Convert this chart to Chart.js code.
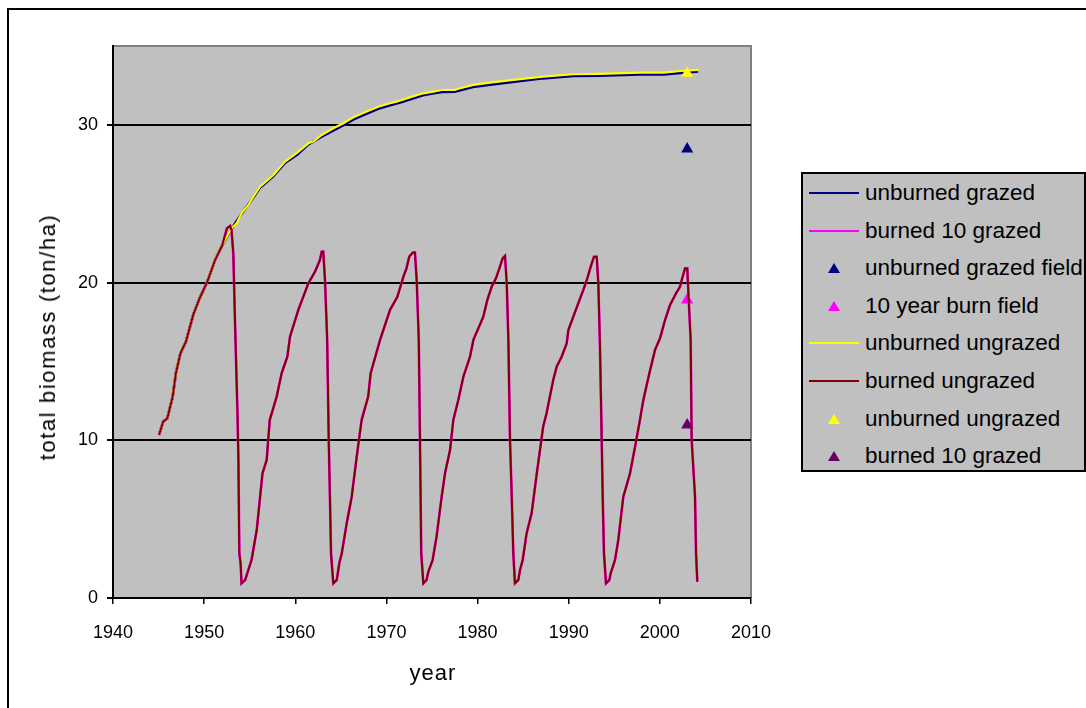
<!DOCTYPE html>
<html>
<head>
<meta charset="utf-8">
<script src="https://cdn.jsdelivr.net/npm/chart.js@4.4.1/dist/chart.umd.min.js"></script>
<style>
  html, body { margin: 0; padding: 0; background: #fff; overflow: hidden; width: 1086px; height: 708px; }
  #wrap { position: relative; width: 1086px; height: 708px; overflow: hidden; }
  #frame { position: absolute; left: 7px; top: 8px; width: 1200px; height: 800px; border: 2px solid #000; box-sizing: border-box; }
  canvas { position: absolute; left: 0; top: 0; }
  .t { position: absolute; font-family: "Liberation Sans", Arial, sans-serif; color: #000; white-space: nowrap; }
  #ytitle { left: 48px; top: 337px; transform: translate(-50%, -50%) rotate(-90deg); font-size: 22px; letter-spacing: 1.6px; }
  #xtitle { left: 433px; top: 673px; transform: translate(-50%, -50%); font-size: 22px; letter-spacing: 1px; }
  #legend { position: absolute; left: 801px; top: 172px; width: 285px; height: 300px; background: #c0c0c0; border: 2px solid #000; box-sizing: border-box; }
  .row { position: absolute; left: 0; width: 282px; height: 30px; }
  .sw-line { position: absolute; left: 6px; top: 14px; width: 50px; height: 2px; }
  .sw-tri { position: absolute; left: 25px; top: 10px; width: 0; height: 0; border-left: 6px solid transparent; border-right: 6px solid transparent; border-bottom: 10px solid; }
  .lbl { position: absolute; left: 62px; top: 0; line-height: 30px; font-size: 22.5px; font-family: "Liberation Sans", Arial, sans-serif; white-space: nowrap; }
</style>
</head>
<body>
<div id="wrap">
  <div id="frame"></div>
  <canvas id="c" width="1086" height="708"></canvas>
  <div class="t" id="ytitle">total biomass (ton/ha)</div>
  <div class="t" id="xtitle">year</div>
  <div id="legend"></div>
</div>
<script>
// Growth common to every simulation before the first fire (1945-1952)
const earlyYears = [1945.05, 1945.5, 1945.96, 1946.55, 1946.9, 1947.4, 1948.0, 1948.8, 1949.5, 1950.35, 1951.2, 1952.0];
const earlyVals  = [10.34, 11.18, 11.39, 12.77, 14.25, 15.52, 16.25, 17.95, 19.0, 20.06, 21.43, 22.38];

// Burned every 10 years (ungrazed), after 1952
const burnYears = [1952.2, 1952.5, 1952.85, 1953.0, 1953.2, 1953.39, 1953.65, 1953.76, 1953.86, 1954.0,
  1954.1, 1954.5, 1954.85, 1955.2, 1955.77, 1956.4, 1956.86, 1957.2, 1957.96, 1958.5,
  1959.13, 1959.42, 1960.33, 1961.43, 1962.16, 1962.7, 1962.9, 1963.07, 1963.26, 1963.5,
  1963.67, 1963.8, 1963.92, 1964.17, 1964.55, 1964.83, 1965.1, 1965.64, 1966.19, 1966.74,
  1967.28, 1968.0, 1968.27, 1969.3, 1970.39, 1971.2, 1971.86, 1972.2, 1972.5, 1972.9,
  1973.13, 1973.32, 1973.55, 1973.68, 1973.82, 1974.05, 1974.4, 1974.6, 1975.07, 1975.5,
  1976.06, 1976.43, 1976.98, 1977.34, 1977.89, 1978.44, 1979.17, 1979.54, 1980.63, 1981.07,
  1981.55, 1982.02, 1982.39, 1982.76, 1983.01, 1983.2, 1983.38, 1983.56, 1983.75, 1983.92,
  1984.1, 1984.47, 1984.66, 1984.95, 1985.38, 1985.93, 1986.5, 1987.2, 1987.57, 1988.3,
  1988.68, 1989.23, 1989.78, 1989.96, 1991.05, 1991.6, 1992.04, 1992.41, 1992.77, 1993.07,
  1993.25, 1993.43, 1993.62, 1993.73, 1993.87, 1994.09, 1994.46, 1994.6, 1995.08, 1995.44,
  1995.99, 1996.73, 1997.28, 1997.75, 1998.19, 1998.85, 1999.47, 2000.02, 2000.57, 2001.12,
  2001.78, 2002.21, 2002.5, 2002.76, 2003.01, 2003.2, 2003.38, 2003.49, 2003.86, 2003.97, 2004.11];
const burnVals = [22.8, 23.44, 23.59, 23.34, 21.86, 17.42, 11.92, 8.75, 2.83, 2.2,
  0.93, 1.14, 1.78, 2.41, 4.31, 7.9, 8.75, 11.29, 12.77, 14.25,
  15.3, 16.57, 18.26, 19.95, 20.69, 21.43, 21.96, 21.96, 20.16, 16.36,
  10.02, 6.42, 2.83, 0.93, 1.14, 2.2, 2.83, 4.73, 6.42, 8.96,
  11.29, 12.77, 14.25, 16.36, 18.26, 19.1, 20.37, 20.9, 21.64, 21.9,
  21.9, 20.16, 16.36, 10.02, 2.83, 0.93, 1.14, 1.67, 2.41, 3.89,
  6.42, 7.91, 9.38, 11.29, 12.56, 14.03, 15.3, 16.36, 17.84, 18.9,
  19.74, 20.27, 20.9, 21.54, 21.69, 19.95, 16.36, 10.02, 6.42, 2.83,
  0.93, 1.14, 1.78, 2.41, 4.1, 5.37, 7.91, 10.87, 11.71, 13.82,
  14.67, 15.3, 16.15, 16.99, 18.69, 19.53, 20.27, 21.0, 21.64, 21.64,
  19.95, 15.94, 10.02, 6.42, 2.83, 0.93, 1.14, 1.56, 2.41, 3.68,
  6.42, 7.91, 9.59, 11.08, 12.56, 14.25, 15.73, 16.47, 17.63, 18.58,
  19.32, 19.74, 20.37, 20.9, 20.9, 18.47, 16.36, 10.02, 6.42, 2.83, 1.03];

// Never burned, ungrazed, after 1952
const ungrazedYears = [1952.1, 1953.0, 1953.57, 1954.12, 1954.85, 1955.4, 1956.13, 1957.6, 1958.87, 1960.15,
  1961.43, 1961.98, 1962.9, 1964.17, 1965.27, 1966.37, 1967.83, 1969.1, 1970.39, 1971.1,
  1971.7, 1972.8, 1974.05, 1975.15, 1976.06, 1977.5, 1978.07, 1979.53, 1981.36, 1983.2,
  1985.39, 1987.2, 1990.5, 1993.43, 1997.82, 2000.38, 2002.57, 2004.22];
const ungrazedVals = [22.49, 23.44, 23.76, 24.4, 24.92, 25.45, 26.08, 26.82, 27.67, 28.2,
  28.83, 28.94, 29.36, 29.78, 30.1, 30.48, 30.84, 31.15, 31.37, 31.47,
  31.58, 31.79, 32.0, 32.11, 32.21, 32.21, 32.32, 32.53, 32.68, 32.8,
  32.95, 33.06, 33.21, 33.23, 33.31, 33.31, 33.43, 33.48];

// Never burned, grazed, after 1952
const grazedYears = [1953.0, 1954.1, 1955.4, 1956.1, 1957.6, 1958.9, 1960.2, 1961.4, 1962.9, 1964.2,
  1965.3, 1966.4, 1967.8, 1969.1, 1970.4, 1971.7, 1972.8, 1974.0, 1975.2, 1976.1,
  1977.5, 1979.5, 1981.4, 1983.2, 1985.4, 1987.2, 1990.5, 1993.4, 1997.8, 2000.4, 2002.6, 2004.2];
const grazedVals = [23.4, 24.35, 25.4, 26.0, 26.75, 27.6, 28.1, 28.75, 29.25, 29.65,
  29.98, 30.35, 30.7, 31.02, 31.25, 31.45, 31.65, 31.88, 32.0, 32.08,
  32.1, 32.4, 32.55, 32.68, 32.83, 32.95, 33.1, 33.12, 33.2, 33.2, 33.3, 33.38];

// Field measurements taken in 2003
const fieldYear = 2003;
const fieldUnburnedGrazed = 28.47;
const fieldTenYearBurn = 18.9;
const fieldUnburnedUngrazed = 33.27;
const fieldBurnedGrazed = 10.97;

const xTicks = [1940, 1950, 1960, 1970, 1980, 1990, 2000, 2010];
const yTicks = [0, 10, 20, 30];

function pts(xs, ys) { return xs.map((x, i) => ({ x: x, y: ys[i] })); }
const early = pts(earlyYears, earlyVals);
const burned = early.concat(pts(burnYears, burnVals));
const unburnedUngrazed = early.concat(pts(ungrazedYears, ungrazedVals));
const unburnedGrazed = early.concat(pts(grazedYears, grazedVals));

const FONT = '"Liberation Sans", Arial, sans-serif';

function lineSet(label, data, color, width, order) {
  return { label, data, type: 'line', borderColor: color, backgroundColor: color, borderWidth: width,
    pointRadius: 0, fill: false, tension: 0, order, kind: 'line' };
}
function triSet(label, value, color, order) {
  return { label, data: [{ x: fieldYear, y: value }], type: 'line', showLine: false,
    pointStyle: 'triangle', pointRadius: 7, pointBackgroundColor: color, pointBorderColor: color,
    pointBorderWidth: 0, borderColor: color, backgroundColor: color, order, kind: 'tri' };
}

const datasets = [
  lineSet('unburned grazed', unburnedGrazed, '#000080', 2.6, 7),
  lineSet('burned 10 grazed', burned, '#ff00ff', 2.6, 6),
  triSet('unburned grazed field', fieldUnburnedGrazed, '#000080', 5),
  triSet('10 year burn field', fieldTenYearBurn, '#ff00ff', 4),
  lineSet('unburned ungrazed', unburnedUngrazed, '#ffff00', 2.2, 3),
  lineSet('burned ungrazed', burned, '#800000', 2, 2),
  triSet('unburned ungrazed', fieldUnburnedUngrazed, '#ffff00', 1),
  triSet('burned 10 grazed', fieldBurnedGrazed, '#660066', 0)
];

const plotFrame = {
  id: 'plotFrame',
  beforeDraw(chart) {
    const a = chart.chartArea, ctx = chart.ctx;
    ctx.save();
    ctx.fillStyle = '#c0c0c0';
    ctx.fillRect(a.left, a.top, a.right - a.left, a.bottom - a.top);
    ctx.strokeStyle = '#808080';
    ctx.lineWidth = 2;
    ctx.beginPath();
    ctx.moveTo(a.left, a.top);
    ctx.lineTo(a.right, a.top);
    ctx.lineTo(a.right, a.bottom);
    ctx.stroke();
    ctx.restore();
  }
};

new Chart(document.getElementById('c'), {
  type: 'line',
  data: { datasets },
  plugins: [plotFrame],
  options: {
    responsive: false,
    animation: false,
    devicePixelRatio: 1,
    layout: { padding: { left: 0, top: 46, right: 335, bottom: 0 } },
    plugins: { legend: { display: false }, tooltip: { enabled: false } },
    scales: {
      x: {
        type: 'linear', min: 1940, max: 2010,
        afterFit(s) { s.height = 110; },
        afterBuildTicks(s) { s.ticks = xTicks.map(v => ({ value: v })); },
        grid: { drawOnChartArea: false, drawTicks: true, tickLength: 6, color: '#000', lineWidth: 1.5 },
        border: { display: true, color: '#000', width: 2 },
        ticks: { color: '#000', font: { family: FONT, size: 18 }, padding: 18, maxRotation: 0,
          callback: v => String(v) }
      },
      y: {
        type: 'linear', min: 0, max: 35,
        afterFit(s) { s.width = 113; },
        afterBuildTicks(s) { s.ticks = yTicks.map(v => ({ value: v })); },
        grid: { drawOnChartArea: true, drawTicks: true, tickLength: 6, color: '#000', lineWidth: 2 },
        border: { display: true, color: '#000', width: 2 },
        ticks: { color: '#000', font: { family: FONT, size: 18 }, padding: 9, callback: v => String(v) }
      }
    }
  }
});

// Legend built from the same dataset list
const legend = document.getElementById('legend');
datasets.forEach((d, i) => {
  const row = document.createElement('div');
  row.className = 'row';
  row.style.top = (4 + i * 37.6) + 'px';
  const sw = document.createElement('div');
  if (d.kind === 'line') {
    sw.className = 'sw-line';
    sw.style.background = d.borderColor;
  } else {
    sw.className = 'sw-tri';
    sw.style.borderBottomColor = d.pointBackgroundColor;
  }
  const lbl = document.createElement('div');
  lbl.className = 'lbl';
  lbl.textContent = d.label;
  row.appendChild(sw);
  row.appendChild(lbl);
  legend.appendChild(row);
});
</script>
</body>
</html>
